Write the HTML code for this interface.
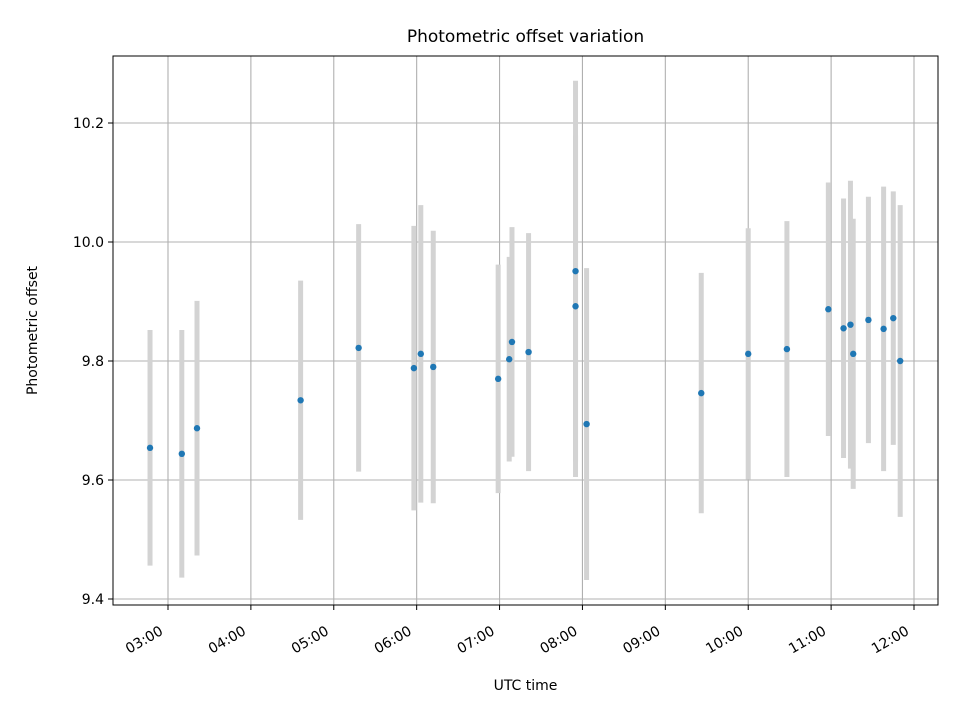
<!DOCTYPE html>
<html><head><meta charset="utf-8"><style>
body{margin:0;background:#fff}
svg{font-family:"DejaVu Sans","Liberation Sans",sans-serif}
</style></head><body>
<svg id="chart" width="960" height="720">
<rect width="960" height="720" fill="#fff"/>
<g id="grid"></g><g id="bars"></g><g id="pts"></g><g id="axes"></g>
</svg>
<script>
const times=["02:47","03:10","03:21","04:36","05:18","05:58","06:03","06:12","06:59","07:07","07:09","07:21","07:55","07:55","08:03","09:26","10:00","10:28","10:58","11:09","11:14","11:16","11:27","11:38","11:45","11:50"];
const offsets=[9.654,9.644,9.687,9.734,9.822,9.788,9.812,9.790,9.770,9.803,9.832,9.815,9.951,9.892,9.694,9.746,9.812,9.820,9.887,9.855,9.861,9.812,9.869,9.854,9.872,9.800];
const errors=[0.198,0.208,0.214,0.201,0.208,0.239,0.250,0.229,0.192,0.172,0.193,0.200,0.320,0.287,0.262,0.202,0.211,0.215,0.213,0.218,0.242,0.227,0.207,0.239,0.213,0.262];
const xTicks=["03:00","04:00","05:00","06:00","07:00","08:00","09:00","10:00","11:00","12:00"];
const yTicks=[9.4,9.6,9.8,10.0,10.2];
const NS="http://www.w3.org/2000/svg";
const L=113,R=938,T=56,B=605;
const xMin=2.3366,xMax=12.2895,yMin=9.3899,yMax=10.3126;
function hrs(s){const p=s.split(":");return +p[0]+ +p[1]/60;}
function X(h){return L+(h-xMin)/(xMax-xMin)*(R-L);}
function Y(v){return B-(v-yMin)/(yMax-yMin)*(B-T);}
function mk(tag,attrs,parent,text){const e=document.createElementNS(NS,tag);for(const k in attrs)e.setAttribute(k,attrs[k]);if(text!==undefined)e.textContent=text;document.getElementById(parent).appendChild(e);return e;}
const g='grid',ax='axes';
xTicks.forEach(t=>{const x=X(hrs(t));
 let e=mk('line',{x1:x,x2:x,y1:T,y2:B,stroke:'#b0b0b0','stroke-width':1.1},g);
 
 
 e=mk('line',{x1:x,x2:x,y1:B,y2:B+5,stroke:'#000','stroke-width':1},ax);
 
 
 e=mk('text',{transform:`translate(${x-9},${B+20}) rotate(-30)`,x:0,y:10,'text-anchor':'end','font-size':14},ax,t);
 
 
});
yTicks.forEach(v=>{const y=Y(v);
 let e=mk('line',{x1:L,x2:R,y1:y,y2:y,stroke:'#b0b0b0','stroke-width':1.1},g);
 
 
 e=mk('line',{x1:L-5,x2:L,y1:y,y2:y,stroke:'#000','stroke-width':1},ax);
 
 
 e=mk('text',{x:L-9,y:y+5,'text-anchor':'end','font-size':14},ax,v.toFixed(1));
 
 
});
times.forEach((t,i)=>{const x=X(hrs(t));
 let e=mk('line',{x1:x,x2:x,y1:Y(offsets[i]+errors[i]),y2:Y(offsets[i]-errors[i]),stroke:'#d3d3d3','stroke-width':5},'bars');
 
 
 e=mk('circle',{cx:x,cy:Y(offsets[i]),r:3.2,fill:'#1f77b4'},'pts');
 
 
});
let e=mk('rect',{x:L,y:T,width:R-L,height:B-T,fill:'none',stroke:'#000','stroke-width':1},ax);


e=mk('text',{x:(L+R)/2,y:42,'text-anchor':'middle','font-size':17},ax,'Photometric offset variation');


e=mk('text',{x:(L+R)/2,y:690,'text-anchor':'middle','font-size':14},ax,'UTC time');


e=mk('text',{transform:`translate(37,${(T+B)/2}) rotate(-90)`,'text-anchor':'middle','font-size':14},ax,'Photometric offset');


</script>
</body></html>
